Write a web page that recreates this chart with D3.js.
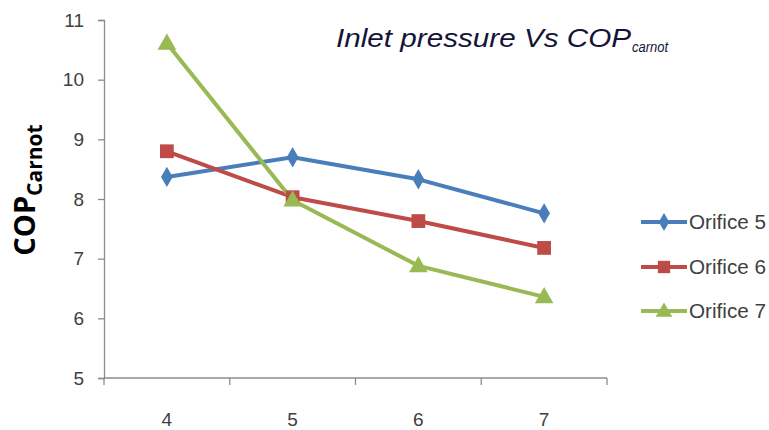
<!DOCTYPE html>
<html>
<head>
<meta charset="utf-8">
<script src="https://cdn.jsdelivr.net/npm/d3@7"></script>
<style>
  html, body { margin: 0; padding: 0; background: #fff; }
  svg { display: block; }
</style>
</head>
<body>
<svg id="chart" width="769" height="430"></svg>
<script>
// Inlet pressure categories and COP (Carnot) per orifice
const pressures = ["4", "5", "6", "7"];
const orifice5 = [8.37, 8.70, 8.33, 7.76];
const orifice6 = [8.80, 8.03, 7.63, 7.18];
const orifice7 = [10.61, 7.98, 6.88, 6.36];
const seriesNames = ["Orifice 5", "Orifice 6", "Orifice 7"];
const yTicks = [5, 6, 7, 8, 9, 10, 11];

const series = [
  { name: seriesNames[0], values: orifice5, color: "#4a7ebb", marker: "diamond" },
  { name: seriesNames[1], values: orifice6, color: "#be4b48", marker: "square" },
  { name: seriesNames[2], values: orifice7, color: "#98b954", marker: "triangle" }
];

const svg = d3.select("#chart");
const plot = { left: 104, right: 607, top: 20, bottom: 378 };

const x = d3.scaleBand().domain(pressures).range([plot.left, plot.right]);
const y = d3.scaleLinear().domain([5, 11]).range([plot.bottom, plot.top]);

const axisColor = "#8c8c8c";
const labelFont = "'Liberation Sans', Arial, sans-serif";

// Y axis
const yAxis = svg.append("g")
  .attr("transform", `translate(${plot.left},0)`)
  .call(d3.axisLeft(y).tickValues(yTicks).tickSize(6).tickPadding(14).tickFormat(d3.format("d")));
yAxis.select(".domain").attr("stroke", axisColor).attr("stroke-width", 1.3);
yAxis.selectAll(".tick line").attr("stroke", axisColor).attr("stroke-width", 1.3);
yAxis.selectAll(".tick text")
  .attr("fill", "#404040")
  .style("font-family", labelFont)
  .style("font-size", "19px");

// X axis with tick marks at category boundaries
const xAxis = svg.append("g")
  .attr("transform", `translate(0,${plot.bottom})`)
  .call(d3.axisBottom(x).tickSize(0).tickPadding(35));
xAxis.select(".domain").attr("stroke", axisColor).attr("stroke-width", 1.3)
  .attr("d", `M${plot.left},0H${plot.right}`);
xAxis.selectAll(".tick text")
  .attr("fill", "#404040")
  .style("font-family", labelFont)
  .style("font-size", "19px");
const boundaries = pressures.map(p => x(p)).concat([x(pressures[pressures.length - 1]) + x.bandwidth()]);
xAxis.selectAll("line.bound")
  .data(boundaries)
  .enter().append("line")
  .attr("class", "bound")
  .attr("x1", d => d).attr("x2", d => d)
  .attr("y1", 0).attr("y2", 7)
  .attr("stroke", axisColor).attr("stroke-width", 1.3);

// Marker shapes
function markerPath(type, size) {
  const sym = type === "diamond" ? d3.symbolDiamond
            : type === "square" ? d3.symbolSquare
            : d3.symbolTriangle;
  return d3.symbol().type(sym).size(size)();
}
const markerSize = { diamond: 120, square: 190, triangle: 150 };

const cx = (i) => x(pressures[i]) + x.bandwidth() / 2;
const line = d3.line().x((d, i) => cx(i)).y(d => y(d));

const g = svg.append("g");
series.forEach(s => {
  g.append("path")
    .datum(s.values)
    .attr("fill", "none")
    .attr("stroke", s.color)
    .attr("stroke-width", 4)
    .attr("stroke-linejoin", "round")
    .attr("d", line);
});
series.forEach(s => {
  g.selectAll(null)
    .data(s.values)
    .enter().append("path")
    .attr("transform", (d, i) => `translate(${cx(i)},${y(d) + (s.marker === "triangle" ? 1 : 0)})`)
    .attr("d", markerPath(s.marker, markerSize[s.marker]))
    .attr("fill", s.color);
});

// Legend
const legend = svg.append("g");
const legendY = [222, 267, 311];
series.forEach((s, i) => {
  const row = legend.append("g").attr("transform", `translate(0,${legendY[i]})`);
  row.append("line")
    .attr("x1", 641).attr("x2", 687)
    .attr("y1", 0).attr("y2", 0)
    .attr("stroke", s.color).attr("stroke-width", 4);
  row.append("path")
    .attr("transform", `translate(664,${s.marker === "triangle" ? 1 : 0})`)
    .attr("d", markerPath(s.marker, markerSize[s.marker] * 0.8))
    .attr("fill", s.color);
  row.append("text")
    .attr("x", 689).attr("y", 0)
    .attr("dy", "0.35em")
    .attr("fill", "#404040")
    .style("font-family", labelFont)
    .style("font-size", "20px")
    .attr("textLength", 77)
    .attr("lengthAdjust", "spacingAndGlyphs")
    .text(s.name);
});

// Title
const titleFont = "'Liberation Sans', Arial, sans-serif";
svg.append("text")
  .attr("x", 336).attr("y", 47)
  .attr("fill", "#141438")
  .style("font-family", titleFont)
  .style("font-style", "italic")
  .style("font-size", "25px")
  .attr("textLength", 295)
  .attr("lengthAdjust", "spacingAndGlyphs")
  .text("Inlet pressure Vs COP");
svg.append("text")
  .attr("x", 632).attr("y", 52)
  .attr("fill", "#141438")
  .style("font-family", titleFont)
  .style("font-style", "italic")
  .style("font-size", "15px")
  .attr("textLength", 36)
  .attr("lengthAdjust", "spacingAndGlyphs")
  .text("carnot");

// Y axis title
const yTitle = svg.append("text")
  .attr("transform", "translate(35,190) rotate(-90)")
  .attr("text-anchor", "middle")
  .attr("fill", "#000")
  .style("font-family", "'Open Sans', 'Liberation Sans', Arial, sans-serif")
  .style("font-weight", "bold")
  .style("font-size", "29px");
yTitle.append("tspan").text("COP");
yTitle.append("tspan").attr("dy", 7).style("font-size", "21px").text("Carnot");
</script>
</body>
</html>
